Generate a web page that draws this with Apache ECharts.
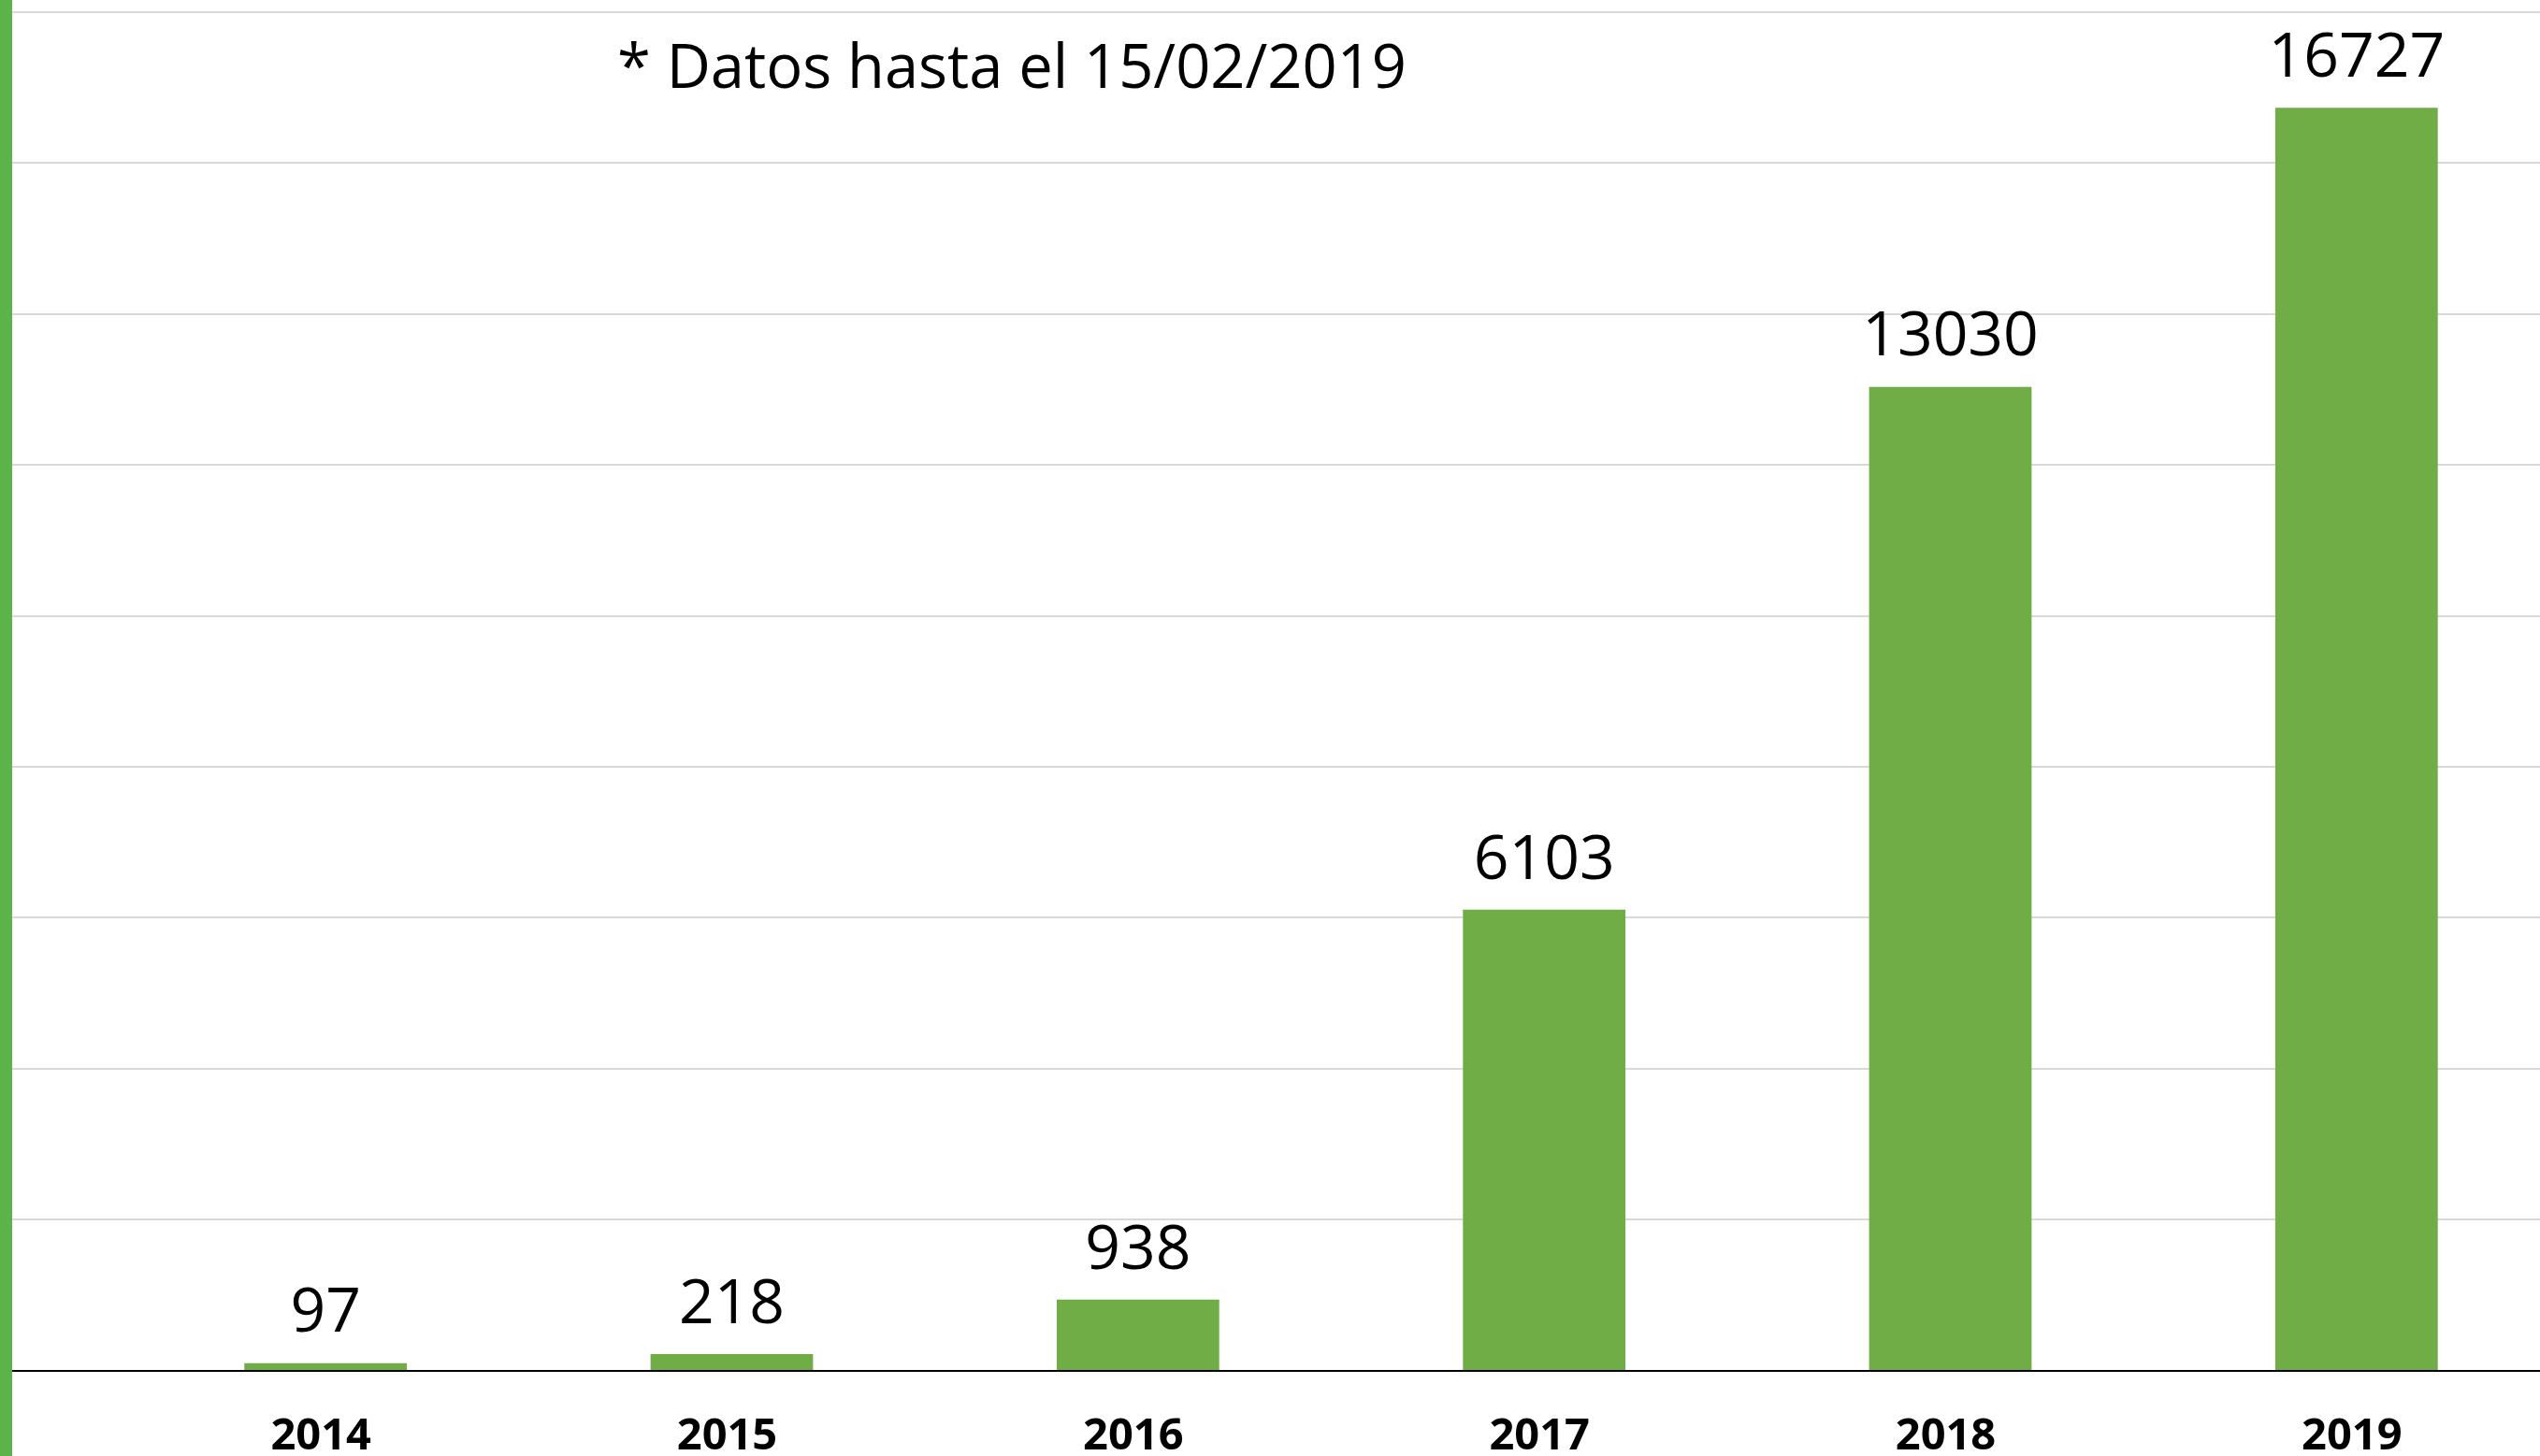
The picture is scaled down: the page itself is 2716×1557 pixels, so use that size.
<!DOCTYPE html>
<html>
<head>
<meta charset="utf-8">
<title>Datos hasta el 15/02/2019</title>
<script src="https://cdn.jsdelivr.net/npm/echarts@6/dist/echarts.min.js"></script>
<style>
  html, body { margin: 0; padding: 0; background: #fff; }
  #wrap { position: relative; width: 2716px; height: 1557px; overflow: hidden; }
  #strip { position: absolute; left: 0; top: 0; width: 13px; height: 100%; background: #5bb34a; z-index: 2; }
  #chart { position: absolute; left: 0; top: 0; width: 2716px; height: 1557px; }
</style>
</head>
<body>
<div id="wrap">
  <div id="strip"></div>
  <div id="chart"></div>
</div>
<script>
// ─── Data ──────────────────────────────────────────
const years = ['2014', '2015', '2016', '2017', '2018', '2019'];
const totals = [97, 218, 938, 6103, 13030, 16727];
const note = '* Datos hasta el 15/02/2019';

const Y_MAX = 18000;
const Y_STEP = 2000;

const chart = echarts.init(document.getElementById('chart'));

chart.setOption({
  animation: false,
  textStyle: { fontFamily: 'Open Sans' },
  title: {
    text: note,
    left: 655,
    top: 38,
    textStyle: { fontFamily: 'Open Sans', fontSize: 65, fontWeight: 'normal', color: '#000' }
  },
  grid: [
    // bars: the category band runs a bit past the right edge, like the cropped original
    { left: 131, width: 2606, top: 12.5, bottom: 91.5, containLabel: false, outerBoundsMode: 'none' },
    // background gridlines + baseline across the full width
    { left: 13, right: 0, top: 12.5, bottom: 91.5, containLabel: false, outerBoundsMode: 'none' }
  ],
  xAxis: [
    {
      type: 'category',
      gridIndex: 0,
      data: years,
      axisLine: { show: false },
      axisTick: { show: false },
      axisLabel: {
        margin: 48,
        padding: [0, 10, 0, 0],
        fontFamily: 'Open Sans',
        fontSize: 47,
        fontWeight: 'bold',
        color: '#000'
      }
    },
    {
      type: 'value',
      gridIndex: 1,
      z: 5,
      axisLine: { show: true, lineStyle: { color: '#000', width: 2 } },
      axisTick: { show: false },
      axisLabel: { show: false },
      splitLine: { show: false }
    }
  ],
  yAxis: [
    {
      type: 'value',
      gridIndex: 0,
      min: 0,
      max: Y_MAX,
      interval: Y_STEP,
      axisLine: { show: false },
      axisTick: { show: false },
      axisLabel: { show: false },
      splitLine: { show: false }
    },
    {
      type: 'value',
      gridIndex: 1,
      min: 0,
      max: Y_MAX,
      interval: Y_STEP,
      axisLine: { show: false },
      axisTick: { show: false },
      axisLabel: { show: false },
      splitLine: { show: true, lineStyle: { color: '#d9d9d9', width: 2 } }
    }
  ],
  series: [
    {
      type: 'bar',
      xAxisIndex: 0,
      yAxisIndex: 0,
      data: totals,
      barWidth: '40%',
      itemStyle: { color: '#70ad47' },
      label: {
        show: true,
        position: 'top',
        distance: 19,
        fontFamily: 'Open Sans',
        fontSize: 66,
        color: '#000'
      }
    }
  ]
});
</script>
</body>
</html>
